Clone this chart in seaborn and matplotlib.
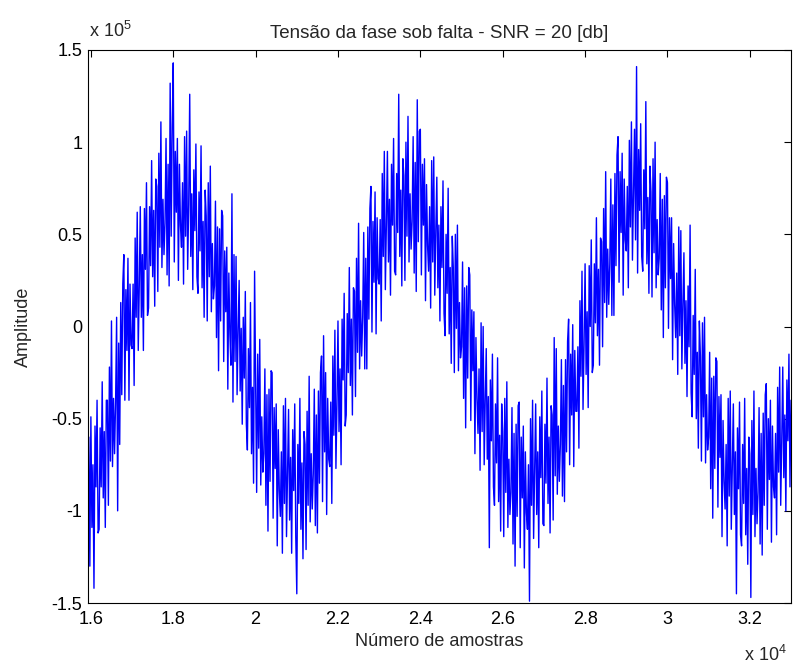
import numpy as np
import pandas as pd
import matplotlib
matplotlib.use("Agg")
import matplotlib.pyplot as plt
import seaborn as sns
from matplotlib.ticker import FuncFormatter, MultipleLocator

# Sample numbers: one value kept every 25 samples
sample_start = 15950
sample_stop = 33000
sample_step = 25

# Phase voltage during the fault, in units of 1e5
tensao_e5 = [
    -0.60, -1.30,
    -0.49, -1.09, -0.75, -1.42, -0.54, -0.87, -0.40, -1.12,
    -1.10, -0.55, -0.87, -0.30, -0.93, -0.57, -1.09, -0.40,
    -0.40, -0.97, -0.22, -0.73, 0.03, -0.76, -0.39, -0.69,
    -0.41, 0.05, -1.00, -0.09, -0.64, 0.13, -0.37, 0.23,
    0.39, -0.40, 0.20, -0.13, 0.37, -0.40, 0.23, -0.10,
    -0.12, 0.23, -0.32, 0.48, 0.05, 0.62, -0.13, 0.22,
    0.65, 0.05, 0.39, -0.13, 0.64, 0.31, 0.78, 0.06,
    0.10, 0.65, 0.33, 0.90, 0.27, 0.63, 0.11, 0.80,
    0.76, 0.19, 0.94, 0.43, 1.11, 0.32, 0.69, 0.39,
    0.56, 1.02, 0.28, 0.88, 0.22, 1.32, 0.49, 1.09,
    1.43, 0.35, 0.95, 0.62, 1.02, 0.25, 0.88, 0.55,
    0.43, 0.78, 0.23, 1.03, 0.49, 1.06, 0.31, 0.66,
    1.26, 0.38, 0.72, 0.20, 0.85, 0.52, 0.99, 0.27,
    0.18, 0.73, 0.41, 0.98, 0.21, 0.57, 0.05, 0.74,
    0.60, 0.03, 0.78, 0.27, 0.87, 0.08, 0.45, 0.15,
    0.22, 0.68, -0.06, 0.54, -0.24, 0.53, 0.03, 0.63,
    0.60, -0.19, 0.41, 0.08, 0.43, -0.34, 0.29, -0.04,
    -0.21, 0.72, -0.41, 0.39, -0.19, 0.38, -0.37, -0.02,
    0.25, -0.35, -0.01, -0.53, 0.05, -0.28, 0.19, -0.53,
    -0.67, -0.12, -0.44, 0.13, -0.69, -0.33, -0.85, 0.30,
    -0.33, -0.90, -0.15, -0.66, -0.07, -0.86, -0.49, -0.79,
    -0.69, -0.23, -0.97, -0.37, -1.11, -0.34, -0.84, -0.24,
    -0.25, -1.04, -0.44, -0.77, -0.42, -1.19, -0.56, -0.89,
    -1.03, -0.68, -1.23, -0.43, -0.96, -0.39, -1.14, -0.79,
    -0.45, -1.05, -0.71, -1.23, -0.56, -0.89, -0.42, -1.14,
    -1.45, -0.64, -0.96, -0.39, -1.10, -0.74, -1.26, -0.57,
    -0.64, -1.21, -0.46, -0.97, -0.27, -1.06, -0.69, -0.99,
    -0.80, -0.34, -1.08, -0.48, -1.12, -0.35, -0.85, -0.25,
    -0.16, -0.95, -0.05, -0.68, -0.25, -1.02, -0.39, -0.72,
    -0.76, -0.41, -0.96, -0.16, -0.59, -0.02, -0.77, -0.42,
    0.03, -0.57, -0.23, -0.75, 0.04, -0.29, 0.18, -0.54,
    -0.48, 0.07, -0.25, 0.32, -0.32, 0.04, -0.48, 0.21,
    0.19, -0.38, 0.37, -0.14, 0.56, -0.23, 0.14, -0.16,
    0.05, 0.51, -0.23, 0.37, -0.23, 0.54, 0.04, 0.64,
    0.76, -0.03, 0.57, 0.24, 0.73, -0.04, 0.59, 0.26,
    0.23, 0.58, 0.03, 0.83, 0.38, 0.95, 0.20, 0.55,
    0.95, 0.35, 0.69, 0.17, 0.88, 0.55, 1.02, 0.30,
    0.28, 0.83, 0.51, 1.26, 0.38, 0.74, 0.22, 0.91,
    0.82, 0.25, 1.00, 0.49, 1.14, 0.35, 0.72, 0.42,
    0.57, 1.03, 0.29, 0.89, 0.19, 1.23, 0.46, 1.06,
    1.07, 0.28, 0.88, 0.55, 0.91, 0.14, 0.77, 0.44,
    0.30, 0.65, 0.10, 0.90, 0.35, 0.92, 0.17, 0.52,
    0.81, 0.21, 0.55, 0.03, 0.65, 0.32, 0.79, 0.07,
    -0.05, 0.50, 0.18, 0.75, -0.04, 0.32, -0.20, 0.49,
    0.32, -0.25, 0.50, -0.01, 0.55, -0.24, 0.13, -0.17,
    -0.11, 0.35, -0.39, 0.21, -0.55, 0.22, -0.28, 0.32,
    0.28, -0.51, 0.09, -0.24, 0.08, -0.69, -0.06, -0.39,
    -0.58, -0.23, -0.78, 0.02, -0.57, 0.00, -0.75, -0.40,
    -0.12, -0.72, -0.38, -1.20, -0.29, -0.62, -0.15, -0.87,
    -0.97, -0.42, -0.74, -0.17, -0.95, -0.59, -1.11, -0.42,
    -0.57, -1.14, -0.39, -0.90, -0.30, -1.09, -0.72, -1.02,
    -0.90, -0.44, -1.18, -0.58, -1.30, -0.53, -1.03, -0.43,
    -0.41, -1.20, -0.60, -0.93, -0.54, -1.31, -0.68, -1.01,
    -1.10, -0.75, -1.49, -0.50, -0.97, -0.40, -1.15, -0.80,
    -0.42, -1.02, -0.68, -1.20, -0.49, -0.82, -0.35, -1.07,
    -1.08, -0.53, -0.85, -0.28, -0.96, -0.60, -1.12, -0.43,
    -0.48, -1.05, -0.06, -0.81, -0.12, -0.91, -0.54, -0.84,
    -0.64, -0.18, -0.92, -0.32, -0.95, -0.18, -0.68, -0.08,
    0.04, -0.75, -0.15, -0.48, 0.01, -0.76, -0.13, -0.46,
    -0.46, -0.11, -0.66, 0.14, -0.27, 0.30, -0.45, -0.10,
    0.34, -0.26, 0.08, -0.44, 0.33, 0.00, 0.47, -0.25,
    -0.21, 0.34, 0.02, 0.59, -0.05, 0.31, -0.21, 0.48,
    0.46, -0.11, 0.64, 0.13, 0.84, 0.05, 0.42, 0.12,
    0.34, 0.80, 0.06, 0.66, 0.06, 0.83, 0.33, 0.93,
    1.03, 0.24, 0.84, 0.51, 0.94, 0.17, 0.80, 0.47,
    0.41, 0.76, 0.21, 1.01, 0.54, 1.11, 0.36, 0.71,
    1.07, 0.47, 1.41, 0.29, 0.96, 0.63, 1.10, 0.38,
    0.30, 0.85, 0.53, 1.22, 0.34, 0.70, 0.18, 0.87,
    0.73, 0.16, 0.91, 0.40, 1.00, 0.21, 0.58, 0.28,
    0.37, 0.83, 0.09, 0.69, -0.06, 0.71, 0.21, 0.81,
    0.78, -0.01, 0.59, 0.26, 0.59, -0.18, 0.45, 0.12,
    -0.06, 0.29, -0.26, 0.54, -0.05, 0.52, -0.23, 0.12,
    0.40, -0.20, 0.14, -0.38, 0.22, -0.11, 0.55, -0.36,
    -0.49, 0.06, -0.26, 0.31, -0.50, -0.14, -0.66, 0.03,
    -0.16, -0.73, 0.02, -0.49, 0.05, -0.74, -0.37, -0.67,
    -0.60, -0.14, -0.88, -0.28, -1.04, -0.27, -0.77, -0.17,
    -0.19, -0.98, -0.38, -0.71, -0.37, -1.14, -0.51, -0.84,
    -0.99, -0.64, -1.19, -0.39, -0.92, -0.35, -1.10, -0.75,
    -0.42, -1.02, -0.68, -1.45, -0.55, -0.88, -0.41, -1.13,
    -1.19, -0.64, -0.96, -0.39, -1.13, -0.77, -1.29, -0.60,
    -0.69, -1.47, -0.51, -1.02, -0.35, -1.14, -0.77, -1.07,
    -0.90, -0.44, -1.18, -0.58, -1.24, -0.47, -0.97, -0.37,
    -0.31, -1.10, -0.50, -0.83, -0.40, -1.17, -0.54, -0.87,
    -0.93, -0.58, -1.13, -0.33, -0.79, -0.22, -0.97, -0.62,
    -0.22, -0.82, -0.48, -1.00, -0.29, -0.62, -0.15, -0.87,
    -0.40,
]

title_text = 'Tensão da fase sob falta - SNR = 20 [db]'
xlabel_text = 'Número de amostras'
ylabel_text = 'Amplitude'


def main():
    sns.set_theme(style="white")
    plt.rcParams['font.family'] = ['Liberation Sans', 'DejaVu Sans']
    plt.rcParams['mathtext.fontset'] = 'custom'
    plt.rcParams['mathtext.rm'] = 'Liberation Sans'

    amostras = np.arange(sample_start, sample_stop + 1, sample_step)
    df = pd.DataFrame({'amostra': amostras,
                       'tensao': np.array(tensao_e5) * 1e5})

    fig = plt.figure(figsize=(7.93, 6.66), dpi=100)
    ax = fig.add_axes([88 / 793, 1 - 603 / 666, 703 / 793, 553 / 666])

    sns.lineplot(data=df, x='amostra', y='tensao', color='#0000ff',
                 linewidth=1.0, estimator=None, sort=False, ax=ax)

    ax.set_xlim(15930, 33000)
    ax.set_ylim(-1.5e5, 1.5e5)
    ax.xaxis.set_major_locator(MultipleLocator(2000))
    ax.yaxis.set_major_locator(MultipleLocator(0.5e5))
    ax.xaxis.set_major_formatter(FuncFormatter(lambda v, p: f'{v / 1e4:g}'))
    ax.yaxis.set_major_formatter(FuncFormatter(lambda v, p: f'{v / 1e5:g}'))
    ax.tick_params(direction='in', top=True, right=True, length=5,
                   width=0.8, labelsize=13, colors='black')
    ax.tick_params(axis='x', pad=6)
    ax.tick_params(axis='y', pad=4)
    for s in ax.spines.values():
        s.set_color('black')
        s.set_linewidth(0.8)

    ax.set_title(title_text, fontsize=13.5, pad=9)
    ax.set_xlabel(xlabel_text, fontsize=13)
    ax.set_ylabel(ylabel_text, fontsize=13)
    ax.xaxis.set_label_coords(0.5, -0.055)
    ax.yaxis.set_label_coords(-0.08, 0.5)

    # MATLAB-style exponent labels
    fig.text(89 / 793, 1 - 37 / 666, r'x 10$^{5}$', fontsize=13, va='baseline')
    fig.text(744 / 793, 1 - 661 / 666, r'x 10$^{4}$', fontsize=13, va='baseline')

    fig.savefig('out.png', dpi=100)


if __name__ == '__main__':
    main()
